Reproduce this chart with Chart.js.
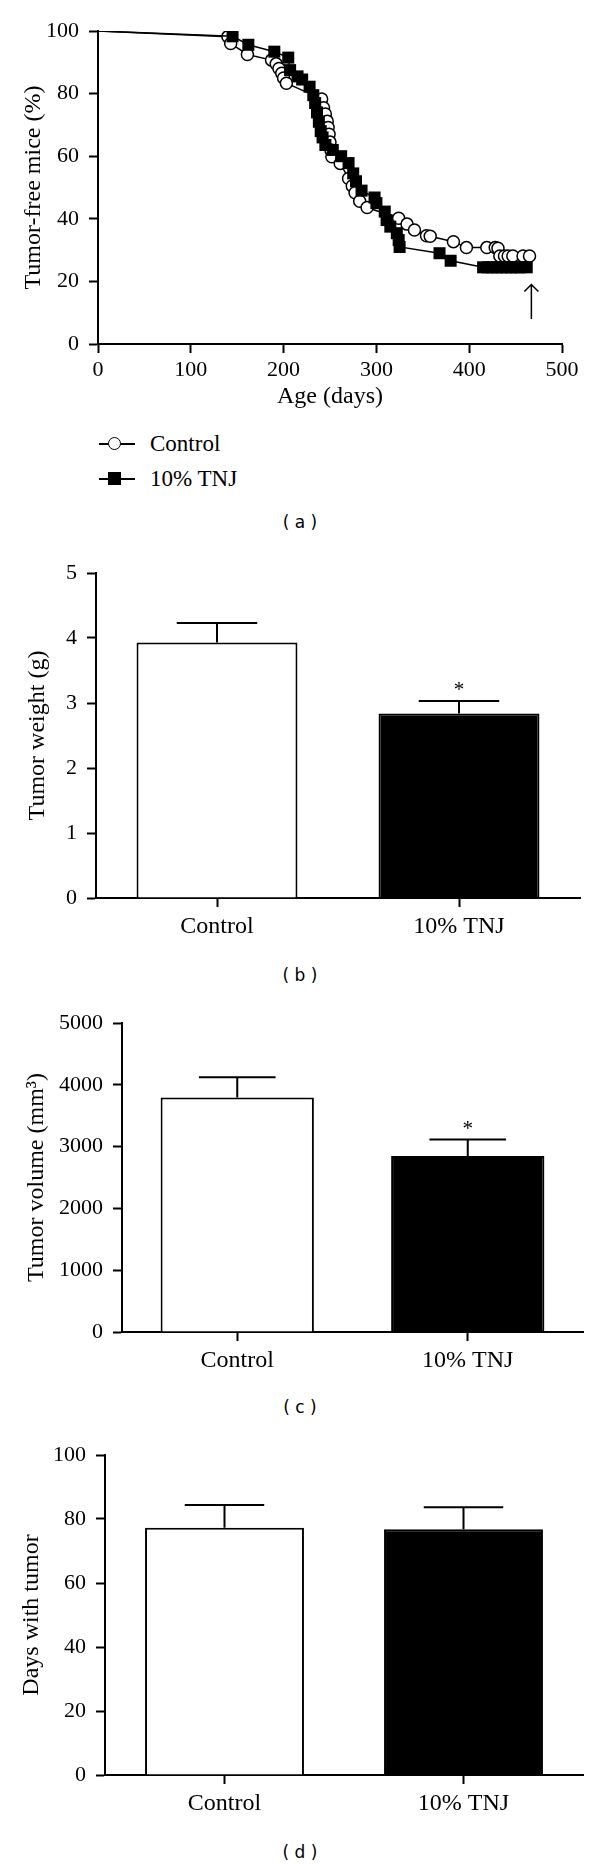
<!DOCTYPE html>
<html lang="en">
<head>
<meta charset="UTF-8">
<title>Tumor-free mice and tumor measurements</title>
<script src="https://cdn.jsdelivr.net/npm/chart.js"></script>
<style>
  body { margin: 0; background: #fff; }
  .page { position: relative; width: 600px; height: 1867px; overflow: hidden; }
  canvas { position: absolute; left: 0; }
  .cap { position: absolute; left: 0; width: 600px; height: 22px; line-height: 22px; text-align: center;
         font-family: 'DejaVu Sans', sans-serif; font-size: 17px; color: #000; }
  .leg-line { position: absolute; left: 99px; width: 36px; height: 2px; background: #000; }
  .leg-mark { position: absolute; box-sizing: border-box; width: 13px; height: 13px; }
  .leg-text { position: absolute; left: 150px; height: 26px; line-height: 26px;
              font-family: 'Liberation Serif', 'Times New Roman', serif; font-size: 23px; color: #000; }
</style>
</head>
<body>
<div class="page">
  <canvas id="chartA" width="600" height="420" style="top:0px"></canvas>

  <div class="leg-line" style="top:443px"></div>
  <div class="leg-mark" style="left:108px; top:437px; border:1.5px solid #000; border-radius:50%; background:#fff"></div>
  <div class="leg-text" style="top:431px">Control</div>
  <div class="leg-line" style="top:478px"></div>
  <div class="leg-mark" style="left:108px; top:472px; background:#000"></div>
  <div class="leg-text" style="top:466px">10% TNJ</div>
  <div class="cap" style="top:511px">( a )</div>

  <canvas id="chartB" width="600" height="410" style="top:540px"></canvas>
  <div class="cap" style="top:964px">( b )</div>

  <canvas id="chartC" width="600" height="400" style="top:990px"></canvas>
  <div class="cap" style="top:1396px">( c )</div>

  <canvas id="chartD" width="600" height="420" style="top:1420px"></canvas>
  <div class="cap" style="top:1841px">( d )</div>
</div>

<script>
  // (a) tumor-free survival
  const controlDays = [0, 140, 143, 161, 187, 192, 195, 198, 200, 203, 241, 243, 245, 247, 248, 249, 250, 251, 252,
    261, 270, 274, 277, 282, 290, 324, 333, 341, 354, 358, 383, 397, 419, 428, 431, 433, 438, 442, 447, 458, 465];
  const controlPct = [100, 98.2, 96.0, 92.5, 90.7, 89.5, 88.0, 86.5, 85.0, 83.3, 78.3, 75.5, 73.5, 71.2, 69.2, 67.0, 64.5, 62.0, 59.8,
    57.7, 52.9, 50.5, 48.3, 45.6, 43.6, 40.2, 38.3, 36.4, 34.6, 34.4, 32.7, 30.8, 30.8, 30.8, 30.6, 28.1, 28.1, 28.1, 28.1, 28.1, 28.1];
  const tnjDays = [0, 145, 162, 190, 205, 207, 215, 220, 228, 232, 234, 236, 238, 240, 242, 245, 253, 262, 270, 275, 278,
    284, 298, 300, 309, 311, 315, 322, 324, 325, 368, 380, 415, 420, 425, 430, 435, 440, 445, 450, 455, 462];
  const tnjPct = [100, 98.3, 95.6, 93.4, 91.5, 87.5, 85.5, 84.5, 82.2, 79.5, 77.0, 74.0, 71.0, 68.0, 66.0, 63.6, 62.0, 60.0, 57.8, 54.5, 52.0,
    49.0, 46.8, 45.0, 42.3, 39.6, 37.5, 35.4, 33.2, 31.0, 29.0, 26.6, 24.5, 24.5, 24.5, 24.5, 24.5, 24.5, 24.5, 24.5, 24.5, 24.5];
  const arrowDay = 467;
  const arrowFrom = 8;
  const arrowTo = 19;

  // (b)-(d) bar panels
  const groups = ['Control', '10% TNJ'];
  const weightMean = [3.93, 2.84];
  const weightSem = [0.30, 0.19];
  const weightSig = ['', '*'];
  const volumeMean = [3793, 2848];
  const volumeSem = [328, 265];
  const volumeSig = ['', '*'];
  const daysMean = [77.3, 76.8];
  const daysSem = [7.1, 6.9];
  const daysSig = ['', ''];

  const serif = "'Liberation Serif', 'Times New Roman', serif";
  Chart.defaults.font.family = serif;
  Chart.defaults.color = '#000';

  function axis(extra) {
    return Object.assign({
      grid: { drawOnChartArea: false, tickLength: 9, color: '#000', tickColor: '#000', tickWidth: 2 },
      border: { color: '#000', width: 2 }
    }, extra);
  }

  function tickFont(size) {
    return { family: serif, size: size };
  }

  function plain(value) {
    return String(value);
  }

  function toPoints(xs, ys) {
    return xs.map((x, i) => ({ x: x, y: ys[i] }));
  }

  const arrowPlugin = {
    id: 'arrow',
    afterDatasetsDraw(chart) {
      const { ctx, scales: { x, y } } = chart;
      const px = x.getPixelForValue(arrowDay);
      const top = y.getPixelForValue(arrowTo);
      const bottom = y.getPixelForValue(arrowFrom);
      ctx.save();
      ctx.strokeStyle = '#000';
      ctx.lineWidth = 1.5;
      ctx.beginPath();
      ctx.moveTo(px, bottom);
      ctx.lineTo(px, top);
      ctx.moveTo(px - 7, top + 7);
      ctx.lineTo(px, top);
      ctx.lineTo(px + 7, top + 7);
      ctx.stroke();
      ctx.restore();
    }
  };

  new Chart(document.getElementById('chartA'), {
    type: 'scatter',
    data: {
      datasets: [
        {
          label: 'Control',
          data: toPoints(controlDays, controlPct),
          showLine: true,
          borderColor: '#000',
          borderWidth: 1.5,
          pointStyle: 'circle',
          pointRadius: controlDays.map((d, i) => i === 0 ? 0 : 6),
          pointBackgroundColor: '#fff',
          pointBorderColor: '#000',
          pointBorderWidth: 1.5,
          order: 2
        },
        {
          label: '10% TNJ',
          data: toPoints(tnjDays, tnjPct),
          showLine: true,
          borderColor: '#000',
          borderWidth: 1.5,
          pointStyle: 'rect',
          pointRadius: tnjDays.map((d, i) => i === 0 ? 0 : 8.5),
          pointBackgroundColor: '#000',
          pointBorderColor: '#000',
          pointBorderWidth: 0,
          order: 1
        }
      ]
    },
    options: {
      responsive: false,
      animation: false,
      devicePixelRatio: 1,
      layout: { padding: { left: 15, right: 38, top: 31, bottom: 5 } },
      plugins: { legend: { display: false }, tooltip: { enabled: false } },
      scales: {
        x: axis({
          type: 'linear', min: 0, max: 500,
          ticks: { stepSize: 100, padding: 4, font: tickFont(22), callback: plain },
          title: { display: true, text: 'Age (days)', font: tickFont(24), padding: { top: 4, bottom: 4 } },
          afterFit: s => { s.height = 71; }
        }),
        y: axis({
          min: 0, max: 100,
          ticks: { stepSize: 20, padding: 10, font: tickFont(22), callback: plain },
          title: { display: true, text: 'Tumor-free mice (%)', font: tickFont(24), padding: { top: 4, bottom: 4 } },
          afterFit: s => { s.width = 83; }
        })
      }
    },
    plugins: [arrowPlugin]
  });

  const errorBars = {
    id: 'errorBars',
    afterDatasetsDraw(chart, args, opts) {
      const { ctx, scales: { y } } = chart;
      const meta = chart.getDatasetMeta(0);
      ctx.save();
      ctx.strokeStyle = '#000';
      ctx.fillStyle = '#000';
      ctx.lineWidth = 2;
      meta.data.forEach((bar, i) => {
        const top = y.getPixelForValue(opts.mean[i] + opts.sem[i]);
        const half = bar.width / 4;
        ctx.beginPath();
        ctx.moveTo(bar.x, bar.y);
        ctx.lineTo(bar.x, top);
        ctx.moveTo(bar.x - half, top);
        ctx.lineTo(bar.x + half, top);
        ctx.stroke();
        if (opts.sig[i]) {
          ctx.font = '21px ' + serif;
          ctx.textAlign = 'center';
          ctx.textBaseline = 'alphabetic';
          ctx.fillText(opts.sig[i], bar.x, top - 5);
        }
      });
      ctx.restore();
    }
  };

  function barChart(id, mean, sem, sig, yMax, yStep, yTitle, yWidth, pad) {
    return new Chart(document.getElementById(id), {
      type: 'bar',
      data: {
        labels: groups,
        datasets: [{
          data: mean,
          backgroundColor: ['#fff', '#000'],
          borderColor: '#000',
          borderWidth: 2,
          barPercentage: 0.665,
          categoryPercentage: 1
        }]
      },
      options: {
        responsive: false,
        animation: false,
        devicePixelRatio: 1,
        layout: { padding: pad },
        plugins: {
          legend: { display: false },
          tooltip: { enabled: false },
          errorBars: { mean: mean, sem: sem, sig: sig }
        },
        scales: {
          x: axis({
            grid: { drawOnChartArea: false, offset: false, tickLength: 9, color: '#000', tickColor: '#000', tickWidth: 2 },
            ticks: { padding: 5, font: tickFont(24) },
            afterFit: s => { s.height = 45; }
          }),
          y: axis({
            min: 0, max: yMax,
            ticks: { stepSize: yStep, padding: 10, font: tickFont(22), callback: plain },
            title: { display: true, text: yTitle, font: tickFont(24), padding: { top: 4, bottom: 4 } },
            afterFit: s => { s.width = yWidth; }
          })
        }
      },
      plugins: [errorBars]
    });
  }

  barChart('chartB', weightMean, weightSem, weightSig, 5, 1, 'Tumor weight (g)', 77,
    { left: 19, right: 20, top: 33, bottom: 7 });
  barChart('chartC', volumeMean, volumeSem, volumeSig, 5000, 1000, 'Tumor volume (mm\u00B3)', 104,
    { left: 18, right: 17, top: 33, bottom: 13 });
  barChart('chartD', daysMean, daysSem, daysSig, 100, 20, 'Days with tumor', 92,
    { left: 13, right: 17, top: 35, bottom: 20 });
</script>
</body>
</html>
